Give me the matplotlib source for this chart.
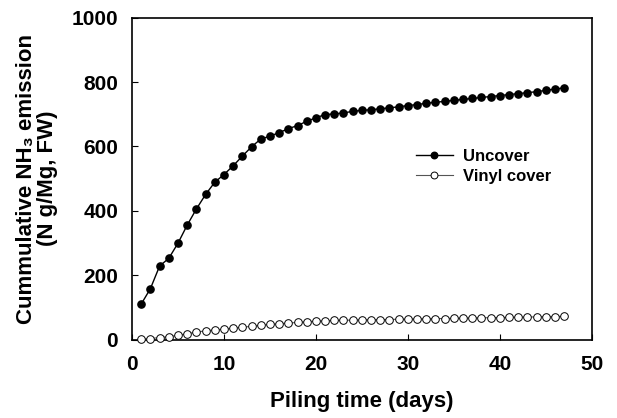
import matplotlib.pyplot as plt

days = list(range(1, 48))
uncover = [111, 159, 229, 253, 300, 356, 406, 451, 489, 513,
           540, 570, 599, 623, 632, 643, 655, 665, 678, 689,
           699, 701, 704, 709, 712, 714, 717, 720, 723, 727,
           730, 734, 737, 740, 743, 746, 749, 752, 755, 758,
           761, 764, 767, 770, 774, 778, 782]
vinyl = [2, 4, 7, 10, 14, 19, 24, 28, 31, 33,
         36, 39, 42, 45, 48, 50, 52, 54, 56, 58,
         59, 60, 61, 61, 62, 62, 63, 63, 64, 64,
         65, 65, 66, 66, 67, 67, 68, 68, 69, 69,
         70, 70, 71, 71, 72, 72, 73]

plt.rcParams['font.family'] = ['Liberation Sans', 'DejaVu Sans']
plt.rcParams['font.weight'] = 'bold'

fig = plt.figure(figsize=(6.17, 4.18), dpi=100)
ax = fig.add_axes([0.214, 0.187, 0.745, 0.771])

ax.plot(days, uncover, color='black', lw=1, marker='o', ms=5.2,
        mfc='black', mec='black', label='Uncover', clip_on=False, zorder=3)
ax.plot(days, vinyl, color='#555555', lw=0.8, marker='o', ms=5.5,
        mfc='white', mec='black', mew=0.7, label='Vinyl cover', clip_on=False, zorder=3)

ax.set_xlim(0, 50)
ax.set_ylim(0, 1000)
ax.set_xticks(range(0, 51, 10))
ax.set_yticks(range(0, 1001, 200))
ax.tick_params(direction='in', length=4, width=0.8, labelsize=15)
ax.tick_params(axis='y', pad=10)
ax.tick_params(axis='x', pad=11)
for s in ax.spines.values():
    s.set_linewidth(1.2)

ax.set_xlabel('Piling time (days)', fontsize=16, fontweight='bold', labelpad=12)
ax.set_ylabel('Cummulative NH\u2083 emission\n(N g/Mg, FW)', fontsize=16,
              fontweight='bold', labelpad=10, linespacing=0.95)

leg = ax.legend(loc='upper left', bbox_to_anchor=(0.585, 0.64), frameon=False,
                fontsize=12, handlelength=2.2, handletextpad=0.6, labelspacing=0.3,
                markerscale=0.9)

fig.savefig('out.png', dpi=100)
